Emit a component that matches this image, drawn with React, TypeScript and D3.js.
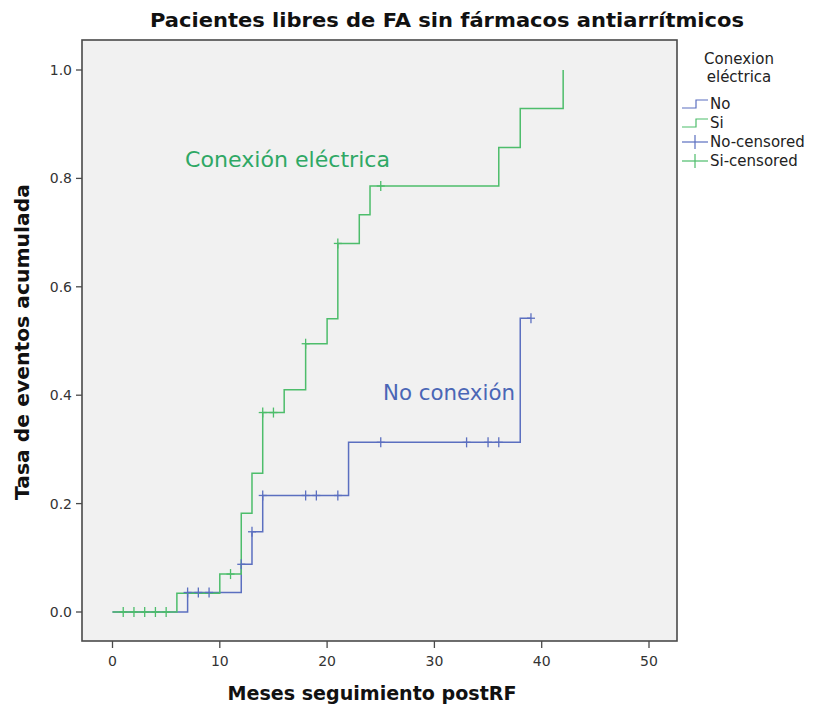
import React from "react";
import * as d3 from "d3";

// Cumulative event rate (1 - KM) per group: step times (months) and rates
const noTimes = [0, 7, 12, 13, 14, 22, 38];
const noRates = [0, 0.036, 0.088, 0.148, 0.215, 0.313, 0.542];
const noEnd = 39;
const noCensored = [7, 8, 9, 12, 13, 14, 18, 19, 21, 25, 33, 35, 36, 39];

const siTimes = [0, 6, 10, 12, 13, 14, 16, 18, 20, 21, 23, 24, 36, 38, 42];
const siRates = [0, 0.0345, 0.07, 0.182, 0.256, 0.368, 0.41, 0.495, 0.541, 0.68, 0.733, 0.786, 0.857, 0.929, 1.0];
const siEnd = 42;
const siCensored = [1, 2, 3, 4, 5, 11, 14, 15, 18, 21, 25];

const xTicks = [0, 10, 20, 30, 40, 50];
const yTicks = [0, 0.2, 0.4, 0.6, 0.8, 1.0];

const legendItems = ["No", "Si", "No-censored", "Si-censored"];

const BLUE = "#5b6fc0";
const GREEN = "#4dbd6b";
const FONT = "'DejaVu Sans', sans-serif";

const W = 815;
const H = 706;
const frame = { left: 82, right: 677, top: 40, bottom: 641 };

const x = d3.scaleLinear().domain([0, 50]).range([112.5, 649]);
const y = d3.scaleLinear().domain([0, 1]).range([612, 70]);

function stepPoints(times: number[], rates: number[], end: number): [number, number][] {
  const pts: [number, number][] = times.map((t, i) => [t, rates[i]]);
  pts.push([end, rates[rates.length - 1]]);
  return pts;
}

function rateAt(times: number[], rates: number[], t: number): number {
  let v = 0;
  times.forEach((tt, i) => {
    if (tt <= t) v = rates[i];
  });
  return v;
}

const stepLine = d3
  .line<[number, number]>()
  .x((d) => x(d[0]))
  .y((d) => y(d[1]))
  .curve(d3.curveStepAfter);

function Censor({ cx, cy, color }: { cx: number; cy: number; color: string }) {
  return (
    <g stroke={color} strokeWidth={1.3}>
      <line x1={cx - 4} x2={cx + 4} y1={cy} y2={cy} />
      <line x1={cx} x2={cx} y1={cy - 5} y2={cy + 5} />
    </g>
  );
}

export default function App() {
  const noPath = stepLine(stepPoints(noTimes, noRates, noEnd)) || "";
  const siPath = stepLine(stepPoints(siTimes, siRates, siEnd)) || "";

  const legendX = 682;
  const legendRowY = [104, 123, 142, 161];

  return (
    <svg
      width={W}
      height={H}
      style={{ position: "absolute", left: 0, top: 0, background: "#ffffff" }}
      fontFamily={FONT}
    >
      {/* title */}
      <text x={447} y={27} textAnchor="middle" fontSize={20} fontWeight="bold" fill="#111"
        textLength={594} lengthAdjust="spacingAndGlyphs">
        Pacientes libres de FA sin fármacos antiarrítmicos
      </text>

      {/* plot frame */}
      <rect
        x={frame.left}
        y={frame.top}
        width={frame.right - frame.left}
        height={frame.bottom - frame.top}
        fill="#f1f1f1"
        stroke="#4a4a4a"
        strokeWidth={1.6}
      />

      {/* y axis ticks */}
      {yTicks.map((t) => (
        <g key={"y" + t}>
          <line x1={frame.left - 6} x2={frame.left} y1={y(t)} y2={y(t)} stroke="#4a4a4a" strokeWidth={1.3} />
          <text x={frame.left - 10} y={y(t) + 5} textAnchor="end" fontSize={14} fill="#333">
            {t.toFixed(1)}
          </text>
        </g>
      ))}

      {/* x axis ticks */}
      {xTicks.map((t) => (
        <g key={"x" + t}>
          <line x1={x(t)} x2={x(t)} y1={frame.bottom} y2={frame.bottom + 7} stroke="#4a4a4a" strokeWidth={1.3} />
          <text x={x(t)} y={frame.bottom + 25} textAnchor="middle" fontSize={14} fill="#333">
            {t}
          </text>
        </g>
      ))}

      {/* axis titles */}
      <text x={372} y={700} textAnchor="middle" fontSize={19} fontWeight="bold" fill="#111"
        textLength={289} lengthAdjust="spacingAndGlyphs">
        Meses seguimiento postRF
      </text>
      <text
        transform={`translate(29,342) rotate(-90)`}
        textAnchor="middle"
        fontSize={19}
        fontWeight="bold"
        fill="#111"
        textLength={316}
        lengthAdjust="spacingAndGlyphs"
      >
        Tasa de eventos acumulada
      </text>

      {/* curves */}
      <path d={noPath} fill="none" stroke={BLUE} strokeWidth={1.5} />
      <path d={siPath} fill="none" stroke={GREEN} strokeWidth={1.5} />

      {noCensored.map((t, i) => (
        <Censor key={"nc" + i} cx={x(t)} cy={y(rateAt(noTimes, noRates, t))} color={BLUE} />
      ))}
      {siCensored.map((t, i) => (
        <Censor key={"sc" + i} cx={x(t)} cy={y(rateAt(siTimes, siRates, t))} color={GREEN} />
      ))}

      {/* in-plot labels */}
      <text x={185} y={167} fontSize={21} fill="#2fa865" textLength={205} lengthAdjust="spacingAndGlyphs">
        Conexión eléctrica
      </text>
      <text x={383} y={400} fontSize={21} fill="#4a66b6" textLength={132} lengthAdjust="spacingAndGlyphs">
        No conexión
      </text>

      {/* legend */}
      <text x={739} y={64} textAnchor="middle" fontSize={15} fill="#222">
        Conexion
      </text>
      <text x={739} y={82} textAnchor="middle" fontSize={15} fill="#222">
        eléctrica
      </text>
      {legendItems.map((label, i) => {
        const cy = legendRowY[i];
        const color = i % 2 === 0 ? BLUE : GREEN;
        const censored = i >= 2;
        return (
          <g key={label}>
            {censored ? (
              <g stroke={color} strokeWidth={1.2}>
                <line x1={legendX} x2={legendX + 26} y1={cy} y2={cy} />
                <line x1={legendX + 13} x2={legendX + 13} y1={cy - 7} y2={cy + 7} />
              </g>
            ) : (
              <path
                d={`M${legendX},${cy + 4}H${legendX + 14}V${cy - 4}H${legendX + 26}`}
                fill="none"
                stroke={color}
                strokeWidth={1.2}
              />
            )}
            <text x={legendX + 28} y={cy + 5} fontSize={15} fill="#222">
              {label}
            </text>
          </g>
        );
      })}
    </svg>
  );
}
